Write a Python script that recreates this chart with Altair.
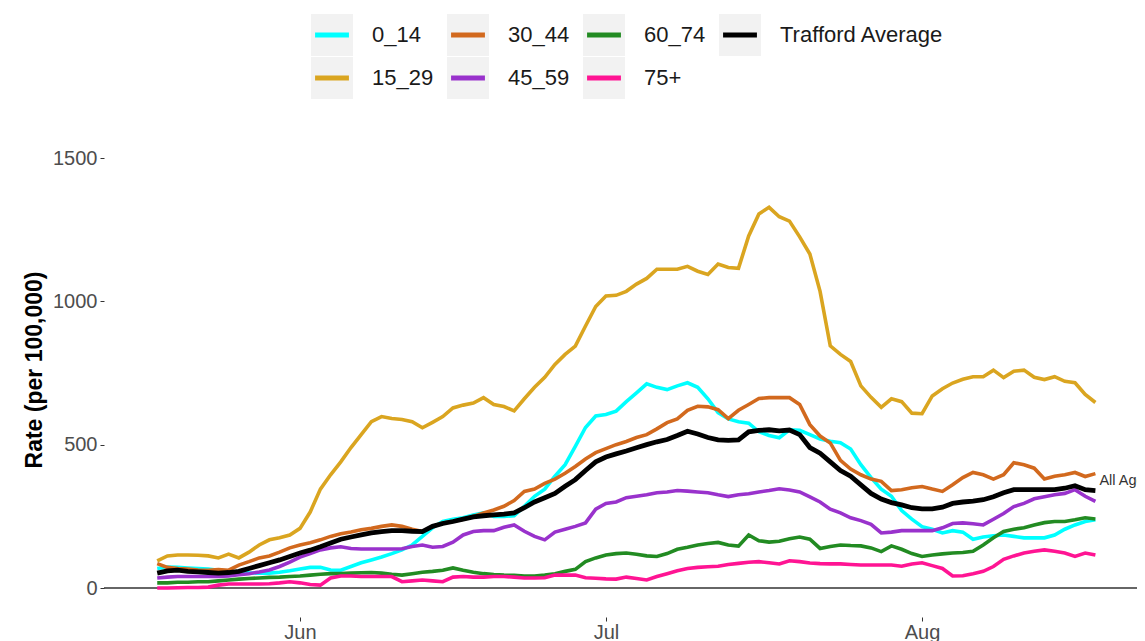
import altair as alt
import pandas as pd

# ---- data (daily, 18 May - 18 Aug 2021) ----
dates = pd.date_range("2021-05-18", periods=93, freq="D").strftime("%Y-%m-%d").tolist()

age_0_14 = [68, 73, 72, 70, 68, 66, 62, 58, 55, 53,
            52, 52, 55, 60, 66, 72, 72, 63, 62, 75,
            88, 98, 108, 120, 133, 150, 180, 210, 232, 240,
            245, 255, 262, 250, 250, 252, 285, 320, 345, 390,
            430, 494, 560, 600, 605, 617, 650, 681, 712, 700,
            692, 705, 716, 700, 660, 612, 590, 580, 575, 545,
            532, 524, 552, 550, 535, 520, 512, 507, 485, 430,
            385, 345, 320, 270, 240, 214, 205, 192, 200, 195,
            170, 178, 182, 185, 180, 175, 175, 175, 185, 205,
            220, 232, 238]

age_15_29 = [95, 112, 115, 115, 114, 112, 105, 118, 105, 125,
             150, 168, 175, 185, 208, 265, 345, 395, 440, 490,
             535, 580, 598, 591, 588, 580, 559, 578, 598, 628,
             638, 645, 664, 640, 633, 618, 660, 700, 735, 780,
             815, 844, 914, 982, 1019, 1021, 1035, 1060, 1080, 1112,
             1112, 1112, 1122, 1105, 1094, 1130, 1118, 1115, 1228, 1305,
             1328, 1295, 1280, 1225, 1165, 1035, 845, 815, 790, 705,
             665, 630, 660, 650, 610, 608, 670, 695, 715, 728,
             737, 737, 760, 734, 756, 760, 735, 727, 737, 721,
             716, 675, 647]

age_30_44 = [85, 72, 68, 66, 63, 62, 64, 62, 80, 92,
             105, 112, 125, 140, 150, 158, 168, 180, 189, 195,
             203, 208, 215, 220, 215, 205, 197, 215, 227, 233,
             240, 250, 262, 272, 285, 305, 337, 345, 365, 380,
             400, 424, 450, 472, 486, 500, 511, 525, 535, 555,
             577, 590, 620, 634, 632, 622, 591, 620, 640, 661,
             664, 664, 664, 640, 570, 530, 506, 445, 415, 395,
             380, 372, 340, 343, 350, 354, 345, 337, 360, 385,
             403, 395, 380, 395, 437, 430, 418, 380, 390, 395,
             403, 389, 399]

age_45_59 = [35, 38, 40, 40, 40, 40, 40, 42, 46, 50,
             56, 63, 75, 90, 108, 120, 133, 140, 144, 138,
             136, 136, 136, 136, 137, 145, 150, 142, 145, 160,
             185, 197, 200, 200, 212, 220, 198, 180, 168, 195,
             205, 215, 227, 275, 295, 300, 315, 320, 325, 332,
             335, 340, 338, 335, 332, 325, 319, 325, 329, 335,
             340, 346, 342, 335, 318, 300, 275, 262, 245, 235,
             222, 192, 195, 200, 200, 200, 200, 210, 225, 227,
             224, 220, 240, 260, 284, 295, 311, 318, 325, 330,
             343, 320, 302]

age_60_74 = [18, 18, 20, 20, 22, 22, 25, 28, 31, 33,
             35, 37, 38, 40, 42, 45, 48, 50, 50, 52,
             53, 54, 52, 48, 45, 50, 55, 58, 62, 70,
             62, 55, 50, 47, 45, 44, 42, 42, 45, 50,
             58, 65, 92, 105, 115, 120, 122, 118, 112, 110,
             120, 135, 142, 150, 155, 159, 150, 146, 185, 165,
             160, 163, 172, 178, 170, 138, 145, 150, 148, 147,
             140, 127, 147, 135, 120, 110, 115, 119, 122, 124,
             128, 150, 175, 197, 205, 210, 220, 228, 232, 232,
             238, 245, 241]

age_75_plus = [0, 0, 1, 2, 2, 3, 10, 14, 14, 14,
               14, 15, 18, 22, 18, 12, 10, 35, 42, 42,
               40, 40, 40, 40, 22, 25, 28, 25, 22, 38,
               40, 38, 38, 40, 40, 38, 35, 35, 36, 45,
               45, 45, 36, 34, 32, 31, 38, 33, 28, 40,
               50, 60, 68, 72, 74, 76, 82, 86, 90, 92,
               88, 84, 95, 92, 87, 85, 84, 84, 82, 80,
               80, 80, 80, 76, 84, 88, 78, 68, 42, 43,
               50, 58, 75, 100, 112, 122, 128, 133, 128, 122,
               110, 122, 115]

trafford_average = [52, 60, 62, 58, 56, 54, 52, 54, 58, 68,
                    78, 88, 98, 110, 122, 132, 144, 157, 170, 178,
                    185, 192, 197, 200, 200, 198, 197, 215, 225, 232,
                    240, 248, 252, 255, 258, 262, 280, 300, 315, 330,
                    355, 378, 410, 440, 457, 468, 478, 489, 500, 510,
                    518, 532, 547, 537, 525, 517, 515, 517, 545, 550,
                    552, 548, 551, 535, 490, 470, 440, 410, 390, 360,
                    330, 310, 298, 290, 280, 276, 276, 282, 295, 300,
                    303, 308, 318, 332, 343, 343, 343, 343, 343, 348,
                    357, 343, 340]

age_series = {
    "0_14": age_0_14,
    "15_29": age_15_29,
    "30_44": age_30_44,
    "45_59": age_45_59,
    "60_74": age_60_74,
    "75+": age_75_plus,
}
avg_name = "Trafford Average"
end_label = "All Ages"

legend_order = ["0_14", "30_44", "60_74", "Trafford Average", "15_29", "45_59", "75+"]
legend_colors = ["#00FFFF", "#D2691E", "#228B22", "#000000", "#DAA520", "#9932CC", "#FF1493"]
tick_dates = ["2021-06-01", "2021-07-01", "2021-08-01"]
y_ticks = [0, 500, 1000, 1500]

# ---- tables ----
rows = []
for name, vals in age_series.items():
    for d, v in zip(dates, vals):
        rows.append({"date": d, "series": name, "rate": v})
df_age = pd.DataFrame(rows)
df_avg = pd.DataFrame({"date": dates, "series": avg_name, "rate": trafford_average})
df_all = pd.concat([df_age, df_avg], ignore_index=True)
df_label = df_avg.tail(1).assign(label=end_label)
df_zero = pd.DataFrame({"rate": [0]})

FONT = "Liberation Sans"


def dt(s, h=0, m=0):
    ts = pd.Timestamp(s)
    return alt.DateTime(year=ts.year, month=ts.month, date=ts.day, hours=h, minutes=m, utc=True)


x_enc = alt.X(
    "date:T",
    scale=alt.Scale(type="utc", domain=[dt("2021-05-12", 18, 43), dt("2021-08-22", 1, 55)]),
    axis=alt.Axis(
        values=[dt(s) for s in tick_dates], format="%b", title=None, grid=False, domain=False,
        tickSize=4, tickColor="#333333", labelColor="#4D4D4D", labelFontSize=20,
        labelFont=FONT, labelPadding=1,
    ),
)
y_enc = alt.Y(
    "rate:Q",
    scale=alt.Scale(domain=[-101.16, 1625.6], nice=False, zero=False),
    axis=alt.Axis(
        values=y_ticks, format="d", title="Rate (per 100,000)", grid=False, domain=False,
        tickSize=4, tickColor="#333333", labelColor="#4D4D4D", labelFontSize=20,
        labelFont=FONT, labelPadding=3, titleFont=FONT, titleFontSize=23,
        titleFontWeight="bold", titleColor="#000000", titlePadding=6,
    ),
)

common_legend = dict(
    orient="none", legendX=207, legendY=-108, direction="horizontal", columns=4,
    title=None, padding=0, labelFontSize=22, labelFont=FONT, labelColor="#1A1A1A",
    labelOffset=19, rowPadding=1, labelLimit=400,
)

# grey key boxes (42 px squares, no stroke)
box_legend = alt.Legend(
    symbolType="square", symbolSize=1764, symbolStrokeWidth=0, symbolOpacity=1,
    labelOpacity=0, columnPadding=13, **common_legend,
)
# coloured key lines drawn over the boxes
line_legend = alt.Legend(
    symbolType="M0,-0.594M-0.915,0H0.915M0,0.594", symbolSize=1369, symbolStrokeWidth=5,
    symbolOpacity=1, symbolFillColor="transparent", columnPadding=7, **common_legend,
)

stroke_scale = alt.Scale(domain=legend_order, range=legend_colors)

boxes = alt.Chart(df_all).mark_square(opacity=0).encode(
    x=x_enc, y=y_enc,
    fill=alt.Fill("series:N", sort=legend_order,
                  scale=alt.Scale(range=["#F2F2F2"] * len(legend_order)), legend=box_legend),
)

zero_rule = alt.Chart(df_zero).mark_rule(color="#333333", strokeWidth=1.3).encode(y="rate:Q")

age_lines = alt.Chart(df_age).mark_line(strokeWidth=3.6).encode(
    x=x_enc, y=y_enc,
    stroke=alt.Stroke("series:N", scale=stroke_scale, legend=line_legend),
)

avg_line = alt.Chart(df_avg).mark_line(strokeWidth=4.8).encode(
    x=x_enc, y=y_enc,
    stroke=alt.Stroke("series:N", scale=stroke_scale, legend=line_legend),
)

end_text = alt.Chart(df_label).mark_text(
    align="left", baseline="middle", dx=4, dy=-10, fontSize=14.5, font=FONT, color="#333333"
).encode(x=x_enc, y=y_enc, text="label:N")

chart = alt.layer(boxes, zero_rule, age_lines, avg_line, end_text).properties(
    width=1033, height=495,
    padding={"left": 96, "top": 114, "right": 0, "bottom": 24},
    autosize=alt.AutoSizeParams(type="none"),
    background="white",
).configure(font=FONT).configure_view(stroke=None)

chart.save("out.html", embed_options={"renderer": "svg", "actions": False})
